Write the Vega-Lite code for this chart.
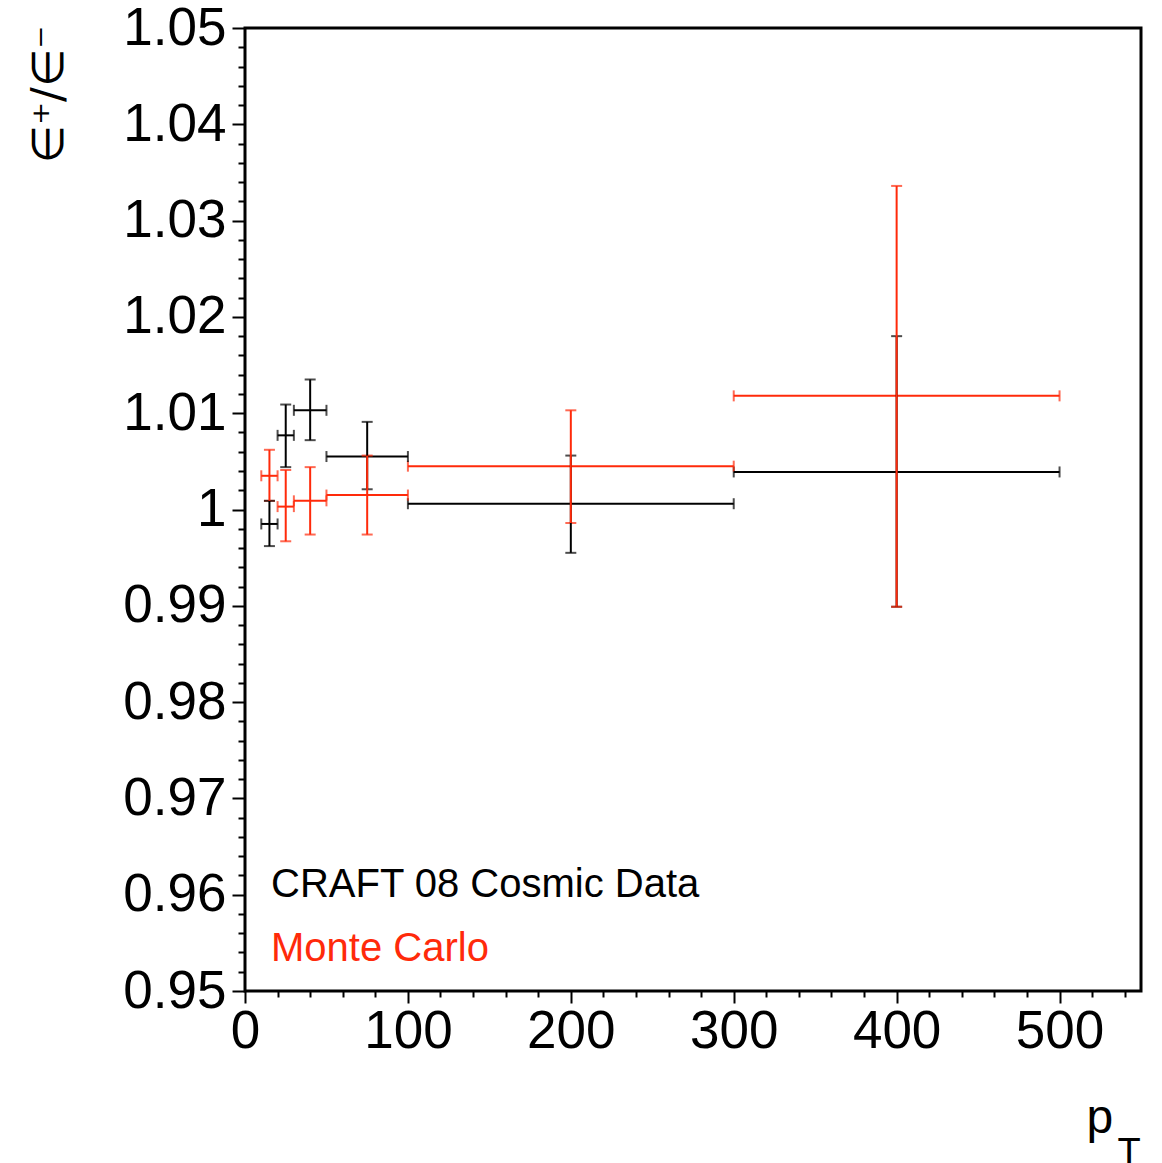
{
  "$schema": "https://vega.github.io/schema/vega-lite/v6.json",
  "autosize": {"type": "none"},
  "padding": {"left": 245, "top": 28, "right": 21, "bottom": 172},
  "width": 896,
  "height": 963,
  "background": "white",
  "config": {
    "view": {"stroke": "black", "strokeWidth": 3},
    "font": "Liberation Sans"
  },
  "data": {
    "values": [
      {"series": "CRAFT 08 Cosmic Data", "x": 15, "xlo": 10, "xhi": 20, "y": 0.9985, "ylo": 0.9962, "yhi": 1.0009},
      {"series": "CRAFT 08 Cosmic Data", "x": 25, "xlo": 20, "xhi": 30, "y": 1.0077, "ylo": 1.0044, "yhi": 1.0109},
      {"series": "CRAFT 08 Cosmic Data", "x": 40, "xlo": 30, "xhi": 50, "y": 1.0103, "ylo": 1.0072, "yhi": 1.0135},
      {"series": "CRAFT 08 Cosmic Data", "x": 75, "xlo": 50, "xhi": 100, "y": 1.0055, "ylo": 1.0021, "yhi": 1.0091},
      {"series": "CRAFT 08 Cosmic Data", "x": 200, "xlo": 100, "xhi": 300, "y": 1.0006, "ylo": 0.9955, "yhi": 1.0056},
      {"series": "CRAFT 08 Cosmic Data", "x": 400, "xlo": 300, "xhi": 500, "y": 1.0039, "ylo": 0.9899, "yhi": 1.018},
      {"series": "Monte Carlo", "x": 15, "xlo": 10, "xhi": 20, "y": 1.0035, "ylo": 1.0009, "yhi": 1.0062},
      {"series": "Monte Carlo", "x": 25, "xlo": 20, "xhi": 30, "y": 1.0003, "ylo": 0.9967, "yhi": 1.0041},
      {"series": "Monte Carlo", "x": 40, "xlo": 30, "xhi": 50, "y": 1.0009, "ylo": 0.9974, "yhi": 1.0044},
      {"series": "Monte Carlo", "x": 75, "xlo": 50, "xhi": 100, "y": 1.0015, "ylo": 0.9974, "yhi": 1.0056},
      {"series": "Monte Carlo", "x": 200, "xlo": 100, "xhi": 300, "y": 1.0045, "ylo": 0.9986, "yhi": 1.0103},
      {"series": "Monte Carlo", "x": 400, "xlo": 300, "xhi": 500, "y": 1.0118, "ylo": 0.9899, "yhi": 1.0336}
    ]
  },
  "resolve": {"axis": {"x": "independent"}},
  "layer": [
    {
      "mark": {"type": "errorbar", "thickness": 2, "ticks": {"size": 11}},
      "encoding": {
        "x": {
          "field": "xlo", "type": "quantitative",
          "scale": {"domain": [0, 550], "nice": false, "zero": false},
          "axis": {
            "orient": "bottom",
            "title": "p",
            "values": [0,20,40,60,80,100,120,140,160,180,200,220,240,260,280,300,320,340,360,380,400,420,440,460,480,500,520,540],
            "labelExpr": "datum.value % 100 === 0 ? toString(datum.value) : ''",
            "tickSize": {"condition": {"test": "datum.value % 100 === 0", "value": 12}, "value": 6},
            "tickColor": "black", "tickWidth": 2,
            "domain": false, "grid": false,
            "labelFontSize": 53, "labelColor": "black", "labelPadding": 2,
            "labelOverlap": false, "labelBound": false, "labelFlush": false,
            "titleFontSize": 48, "titleFontWeight": "normal", "titleColor": "black",
            "titleAlign": "left", "titleBaseline": "alphabetic",
            "titleX": 841, "titleY": 141
          }
        },
        "x2": {"field": "xhi"},
        "y": {
          "field": "y", "type": "quantitative",
          "scale": {"domain": [0.95, 1.05], "nice": false, "zero": false},
          "axis": {
            "title": "∈⁺/∈⁻",
            "values": [0.95,0.952,0.954,0.956,0.958,0.96,0.962,0.964,0.966,0.968,0.97,0.972,0.974,0.976,0.978,0.98,0.982,0.984,0.986,0.988,0.99,0.992,0.994,0.996,0.998,1,1.002,1.004,1.006,1.008,1.01,1.012,1.014,1.016,1.018,1.02,1.022,1.024,1.026,1.028,1.03,1.032,1.034,1.036,1.038,1.04,1.042,1.044,1.046,1.048,1.05],
            "labelExpr": "abs(datum.value*100 - round(datum.value*100)) < 0.01 ? toString(round(datum.value*100)/100) : ''",
            "tickSize": {"condition": {"test": "abs(datum.value*100 - round(datum.value*100)) < 0.01", "value": 13}, "value": 7},
            "tickColor": "black", "tickWidth": 2,
            "domain": false, "grid": false,
            "labelFontSize": 53, "labelColor": "black", "labelPadding": 6,
            "labelOverlap": false, "labelBound": false, "labelFlush": false,
            "titleFont": "DejaVu Sans", "titleFontSize": 44, "titleFontWeight": "normal", "titleColor": "black",
            "titleAngle": -90, "titleAlign": "right", "titleBaseline": "alphabetic",
            "titleX": -183, "titleY": -3
          }
        },
        "color": {
          "field": "series", "type": "nominal",
          "scale": {"domain": ["CRAFT 08 Cosmic Data", "Monte Carlo"], "range": ["#000000", "#ff2a0a"]},
          "legend": {
            "orient": "none", "legendX": -14, "legendY": 837,
            "title": null,
            "labelFontSize": 40, "labelFont": "Liberation Sans", "labelLimit": 0,
            "symbolSize": 0, "symbolOpacity": 0, "symbolStrokeWidth": 0,
            "labelOffset": 0, "rowPadding": 24,
            "encode": {"labels": {"update": {"fill": {"scale": "color", "field": "value"}}}}
          }
        }
      }
    },
    {
      "mark": {"type": "errorbar", "thickness": 2, "ticks": {"size": 11}},
      "encoding": {
        "x": {
          "field": "x", "type": "quantitative",
          "axis": {
            "orient": "bottom",
            "title": "T",
            "labels": false, "ticks": false, "domain": false, "grid": false,
            "titleFontSize": 38, "titleFontWeight": "normal", "titleColor": "black",
            "titleAlign": "left", "titleBaseline": "alphabetic",
            "titleX": 872, "titleY": 173
          }
        },
        "y": {
          "field": "ylo", "type": "quantitative",
          "axis": {
            "title": "∈⁺/∈⁻",
            "values": [0.95,0.952,0.954,0.956,0.958,0.96,0.962,0.964,0.966,0.968,0.97,0.972,0.974,0.976,0.978,0.98,0.982,0.984,0.986,0.988,0.99,0.992,0.994,0.996,0.998,1,1.002,1.004,1.006,1.008,1.01,1.012,1.014,1.016,1.018,1.02,1.022,1.024,1.026,1.028,1.03,1.032,1.034,1.036,1.038,1.04,1.042,1.044,1.046,1.048,1.05],
            "labelExpr": "abs(datum.value*100 - round(datum.value*100)) < 0.01 ? toString(round(datum.value*100)/100) : ''",
            "tickSize": {"condition": {"test": "abs(datum.value*100 - round(datum.value*100)) < 0.01", "value": 13}, "value": 7},
            "tickColor": "black", "tickWidth": 2,
            "domain": false, "grid": false,
            "labelFontSize": 53, "labelColor": "black", "labelPadding": 6,
            "labelOverlap": false, "labelBound": false, "labelFlush": false,
            "titleFont": "DejaVu Sans", "titleFontSize": 44, "titleFontWeight": "normal", "titleColor": "black",
            "titleAngle": -90, "titleAlign": "right", "titleBaseline": "alphabetic",
            "titleX": -183, "titleY": -3
          }
        },
        "y2": {"field": "yhi"},
        "color": {"field": "series", "type": "nominal"}
      }
    }
  ]
}
